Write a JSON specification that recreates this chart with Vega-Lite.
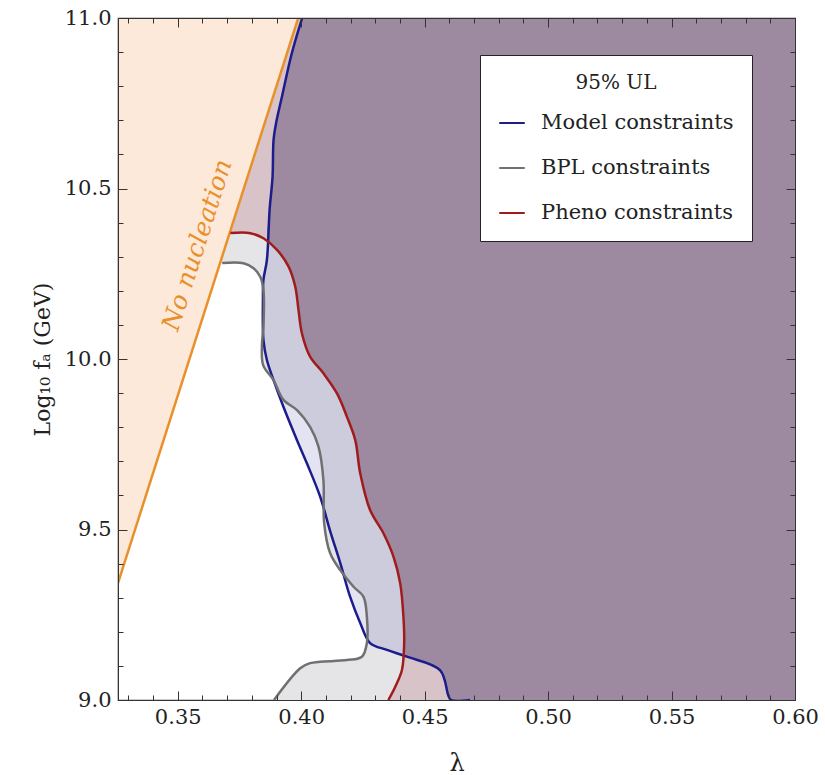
{
  "$schema": "https://vega.github.io/schema/vega-lite/v6.json",
  "width": 677,
  "height": 682,
  "autosize": {"type": "none"},
  "padding": {"left": 118, "top": 18, "right": 30, "bottom": 75},
  "background": "white",
  "config": {
    "font": "DejaVu Serif",
    "view": {"stroke": "#333333", "strokeWidth": 1.2},
    "axis": {"grid": false, "domainColor": "#333333", "tickColor": "#333333", "labelColor": "#222222", "titleColor": "#222222", "labelFont": "DejaVu Serif", "titleFont": "DejaVu Serif", "titleFontWeight": "normal", "labelFlush": false, "labelOverlap": false}
  },
  "datasets": {
    "grayEdge": [
      {"y": 9.0, "x": 0.389}, {"y": 9.093, "x": 0.3996}, {"y": 9.108, "x": 0.4036}, {"y": 9.117, "x": 0.4185},
      {"y": 9.127, "x": 0.4246}, {"y": 9.167, "x": 0.4266}, {"y": 9.244, "x": 0.4266}, {"y": 9.303, "x": 0.4252},
      {"y": 9.332, "x": 0.4212}, {"y": 9.381, "x": 0.4158}, {"y": 9.431, "x": 0.4117}, {"y": 9.519, "x": 0.4093},
      {"y": 9.645, "x": 0.409}, {"y": 9.743, "x": 0.407}, {"y": 9.801, "x": 0.4036}, {"y": 9.85, "x": 0.3983},
      {"y": 9.88, "x": 0.3928}, {"y": 9.938, "x": 0.3888}, {"y": 9.982, "x": 0.3846}, {"y": 10.041, "x": 0.3841},
      {"y": 10.095, "x": 0.3847}, {"y": 10.202, "x": 0.3847}, {"y": 10.241, "x": 0.3834}, {"y": 10.266, "x": 0.3807},
      {"y": 10.281, "x": 0.3766}, {"y": 10.2815, "x": 0.368}, {"y": 10.282, "x": 0.3258}, {"y": 11.0, "x": 0.3258}
    ],
    "blueEdge": [
      {"y": 9.0, "x": 0.4607}, {"y": 9.013, "x": 0.4596}, {"y": 9.087, "x": 0.4563}, {"y": 9.127, "x": 0.4428},
      {"y": 9.147, "x": 0.4347}, {"y": 9.167, "x": 0.4279}, {"y": 9.226, "x": 0.4239}, {"y": 9.303, "x": 0.4198},
      {"y": 9.402, "x": 0.4158}, {"y": 9.496, "x": 0.4117}, {"y": 9.596, "x": 0.4077}, {"y": 9.694, "x": 0.4023},
      {"y": 9.762, "x": 0.3983}, {"y": 9.86, "x": 0.3928}, {"y": 9.938, "x": 0.3888}, {"y": 9.997, "x": 0.3861},
      {"y": 10.056, "x": 0.3847}, {"y": 10.173, "x": 0.3845}, {"y": 10.232, "x": 0.3847}, {"y": 10.29, "x": 0.3861},
      {"y": 10.437, "x": 0.3872}, {"y": 10.535, "x": 0.3884}, {"y": 10.642, "x": 0.3888}, {"y": 10.691, "x": 0.3898},
      {"y": 10.769, "x": 0.3922}, {"y": 10.8965, "x": 0.3962}, {"y": 11.0, "x": 0.4004}
    ],
    "redEdge": [
      {"y": 9.0, "x": 0.4353}, {"y": 9.039, "x": 0.4381}, {"y": 9.088, "x": 0.4408}, {"y": 9.166, "x": 0.4417},
      {"y": 9.244, "x": 0.4414}, {"y": 9.342, "x": 0.4401}, {"y": 9.42, "x": 0.4374}, {"y": 9.489, "x": 0.4333},
      {"y": 9.557, "x": 0.4279}, {"y": 9.665, "x": 0.4239}, {"y": 9.762, "x": 0.4219}, {"y": 9.831, "x": 0.4185},
      {"y": 9.899, "x": 0.4145}, {"y": 9.958, "x": 0.409}, {"y": 10.007, "x": 0.4036}, {"y": 10.075, "x": 0.4003},
      {"y": 10.144, "x": 0.3989}, {"y": 10.212, "x": 0.3976}, {"y": 10.271, "x": 0.3949}, {"y": 10.32, "x": 0.3902},
      {"y": 10.354, "x": 0.3847}, {"y": 10.369, "x": 0.3794}, {"y": 10.3695, "x": 0.3258}, {"y": 11.0, "x": 0.3258}
    ],
    "darkEdge": [
      {"y": 9.0, "x": 0.4607}, {"y": 9.013, "x": 0.4596}, {"y": 9.087, "x": 0.4563}, {"y": 9.127, "x": 0.4428},
      {"y": 9.131, "x": 0.4415}, {"y": 9.166, "x": 0.4417}, {"y": 9.244, "x": 0.4414}, {"y": 9.342, "x": 0.4401},
      {"y": 9.42, "x": 0.4374}, {"y": 9.489, "x": 0.4333}, {"y": 9.557, "x": 0.4279}, {"y": 9.665, "x": 0.4239},
      {"y": 9.762, "x": 0.4219}, {"y": 9.831, "x": 0.4185}, {"y": 9.899, "x": 0.4145}, {"y": 9.958, "x": 0.409},
      {"y": 10.007, "x": 0.4036}, {"y": 10.075, "x": 0.4003}, {"y": 10.144, "x": 0.3989}, {"y": 10.212, "x": 0.3976},
      {"y": 10.271, "x": 0.3949}, {"y": 10.32, "x": 0.3902}, {"y": 10.343, "x": 0.3866}, {"y": 10.437, "x": 0.3872},
      {"y": 10.535, "x": 0.3884}, {"y": 10.642, "x": 0.3888}, {"y": 10.691, "x": 0.3898}, {"y": 10.769, "x": 0.3922},
      {"y": 10.8965, "x": 0.3962}, {"y": 11.0, "x": 0.4004}
    ],
    "orangeEdge": [
      {"y": 9.343, "x": 0.3258}, {"y": 11.0, "x": 0.3988}
    ],
    "curves": [
      {"series": "Model constraints", "x": 0.4684, "y": 9.0}, {"series": "Model constraints", "x": 0.4607, "y": 9.0},
      {"series": "Model constraints", "x": 0.4596, "y": 9.013}, {"series": "Model constraints", "x": 0.4563, "y": 9.087},
      {"series": "Model constraints", "x": 0.4428, "y": 9.127}, {"series": "Model constraints", "x": 0.4347, "y": 9.147},
      {"series": "Model constraints", "x": 0.4279, "y": 9.167}, {"series": "Model constraints", "x": 0.4239, "y": 9.226},
      {"series": "Model constraints", "x": 0.4198, "y": 9.303}, {"series": "Model constraints", "x": 0.4158, "y": 9.402},
      {"series": "Model constraints", "x": 0.4117, "y": 9.496}, {"series": "Model constraints", "x": 0.4077, "y": 9.596},
      {"series": "Model constraints", "x": 0.4023, "y": 9.694}, {"series": "Model constraints", "x": 0.3983, "y": 9.762},
      {"series": "Model constraints", "x": 0.3928, "y": 9.86}, {"series": "Model constraints", "x": 0.3888, "y": 9.938},
      {"series": "Model constraints", "x": 0.3861, "y": 9.997}, {"series": "Model constraints", "x": 0.3847, "y": 10.056},
      {"series": "Model constraints", "x": 0.3845, "y": 10.173}, {"series": "Model constraints", "x": 0.3847, "y": 10.232},
      {"series": "Model constraints", "x": 0.3861, "y": 10.29}, {"series": "Model constraints", "x": 0.3872, "y": 10.437},
      {"series": "Model constraints", "x": 0.3884, "y": 10.535}, {"series": "Model constraints", "x": 0.3888, "y": 10.642},
      {"series": "Model constraints", "x": 0.3898, "y": 10.691}, {"series": "Model constraints", "x": 0.3922, "y": 10.769},
      {"series": "Model constraints", "x": 0.3962, "y": 10.8965}, {"series": "Model constraints", "x": 0.4004, "y": 11.0},
      {"series": "BPL constraints", "x": 0.389, "y": 9.0}, {"series": "BPL constraints", "x": 0.3996, "y": 9.093},
      {"series": "BPL constraints", "x": 0.4036, "y": 9.108}, {"series": "BPL constraints", "x": 0.4185, "y": 9.117},
      {"series": "BPL constraints", "x": 0.4246, "y": 9.127}, {"series": "BPL constraints", "x": 0.4266, "y": 9.167},
      {"series": "BPL constraints", "x": 0.4266, "y": 9.244}, {"series": "BPL constraints", "x": 0.4252, "y": 9.303},
      {"series": "BPL constraints", "x": 0.4212, "y": 9.332}, {"series": "BPL constraints", "x": 0.4158, "y": 9.381},
      {"series": "BPL constraints", "x": 0.4117, "y": 9.431}, {"series": "BPL constraints", "x": 0.4093, "y": 9.519},
      {"series": "BPL constraints", "x": 0.409, "y": 9.645}, {"series": "BPL constraints", "x": 0.407, "y": 9.743},
      {"series": "BPL constraints", "x": 0.4036, "y": 9.801}, {"series": "BPL constraints", "x": 0.3983, "y": 9.85},
      {"series": "BPL constraints", "x": 0.3928, "y": 9.88}, {"series": "BPL constraints", "x": 0.3888, "y": 9.938},
      {"series": "BPL constraints", "x": 0.3846, "y": 9.982}, {"series": "BPL constraints", "x": 0.3841, "y": 10.041},
      {"series": "BPL constraints", "x": 0.3847, "y": 10.095}, {"series": "BPL constraints", "x": 0.3847, "y": 10.202},
      {"series": "BPL constraints", "x": 0.3834, "y": 10.241}, {"series": "BPL constraints", "x": 0.3807, "y": 10.266},
      {"series": "BPL constraints", "x": 0.3766, "y": 10.281}, {"series": "BPL constraints", "x": 0.368, "y": 10.2815},
      {"series": "Pheno constraints", "x": 0.4353, "y": 9.0}, {"series": "Pheno constraints", "x": 0.4381, "y": 9.039},
      {"series": "Pheno constraints", "x": 0.4408, "y": 9.088}, {"series": "Pheno constraints", "x": 0.4417, "y": 9.166},
      {"series": "Pheno constraints", "x": 0.4414, "y": 9.244}, {"series": "Pheno constraints", "x": 0.4401, "y": 9.342},
      {"series": "Pheno constraints", "x": 0.4374, "y": 9.42}, {"series": "Pheno constraints", "x": 0.4333, "y": 9.489},
      {"series": "Pheno constraints", "x": 0.4279, "y": 9.557}, {"series": "Pheno constraints", "x": 0.4239, "y": 9.665},
      {"series": "Pheno constraints", "x": 0.4219, "y": 9.762}, {"series": "Pheno constraints", "x": 0.4185, "y": 9.831},
      {"series": "Pheno constraints", "x": 0.4145, "y": 9.899}, {"series": "Pheno constraints", "x": 0.409, "y": 9.958},
      {"series": "Pheno constraints", "x": 0.4036, "y": 10.007}, {"series": "Pheno constraints", "x": 0.4003, "y": 10.075},
      {"series": "Pheno constraints", "x": 0.3989, "y": 10.144}, {"series": "Pheno constraints", "x": 0.3976, "y": 10.212},
      {"series": "Pheno constraints", "x": 0.3949, "y": 10.271}, {"series": "Pheno constraints", "x": 0.3902, "y": 10.32},
      {"series": "Pheno constraints", "x": 0.3847, "y": 10.354}, {"series": "Pheno constraints", "x": 0.3794, "y": 10.369},
      {"series": "Pheno constraints", "x": 0.3713, "y": 10.3692}
    ],
    "label": [
      {"x": 0.3579, "y": 10.334, "text": "No nucleation"}
    ]
  },
  "layer": [
    {
      "layer": [
        {
          "data": {"name": "grayEdge"},
          "mark": {"type": "area", "orient": "horizontal", "color": "#e5e5e7", "opacity": 1, "clip": true, "interpolate": "catmull-rom"},
          "encoding": {
            "y": {"field": "y", "type": "quantitative", "scale": {"domain": [9, 11], "nice": false, "zero": false}},
            "x": {"field": "x", "type": "quantitative", "scale": {"domain": [0.3258, 0.6], "nice": false, "zero": false}},
            "x2": {"datum": 0.6}
          }
        },
        {
          "data": {"name": "blueEdge"},
          "mark": {"type": "area", "orient": "horizontal", "color": "#2a2a9a", "opacity": 0.13, "clip": true, "interpolate": "catmull-rom"},
          "encoding": {
            "y": {"field": "y", "type": "quantitative"},
            "x": {"field": "x", "type": "quantitative"},
            "x2": {"datum": 0.6}
          }
        },
        {
          "data": {"name": "redEdge"},
          "mark": {"type": "area", "orient": "horizontal", "color": "#d8c4c8", "opacity": 1, "clip": true, "interpolate": "catmull-rom"},
          "encoding": {
            "y": {"field": "y", "type": "quantitative"},
            "x": {"field": "x", "type": "quantitative"},
            "x2": {"datum": 0.6}
          }
        },
        {
          "data": {"name": "darkEdge"},
          "mark": {"type": "area", "orient": "horizontal", "color": "#9e8aa0", "opacity": 1, "clip": true, "interpolate": "catmull-rom"},
          "encoding": {
            "y": {"field": "y", "type": "quantitative"},
            "x": {"field": "x", "type": "quantitative"},
            "x2": {"datum": 0.6}
          }
        },
        {
          "data": {"name": "orangeEdge"},
          "mark": {"type": "area", "orient": "horizontal", "color": "#fde9da", "opacity": 1, "clip": true},
          "encoding": {
            "y": {"field": "y", "type": "quantitative"},
            "x": {"field": "x", "type": "quantitative"},
            "x2": {"datum": 0.3258}
          }
        },
        {
          "data": {"name": "orangeEdge"},
          "mark": {"type": "line", "color": "#e8902a", "strokeWidth": 2.5, "clip": true},
          "encoding": {
            "y": {"field": "y", "type": "quantitative"},
            "x": {"field": "x", "type": "quantitative"},
            "order": {"value": null}
          }
        },
        {
          "data": {"name": "curves"},
          "mark": {"type": "line", "strokeWidth": 2.5, "clip": true, "interpolate": "catmull-rom"},
          "encoding": {
            "y": {"field": "y", "type": "quantitative"},
            "x": {"field": "x", "type": "quantitative"},
            "order": {"value": null},
            "color": {
              "field": "series", "type": "nominal",
              "scale": {"domain": ["Model constraints", "BPL constraints", "Pheno constraints"], "range": ["#1c1c8c", "#707070", "#a01c1c"]},
              "legend": {
                "orient": "none", "legendX": 362, "legendY": 37, "title": "95% UL",
                "titleAnchor": "middle", "titleAlign": "center", "titleFontSize": 20, "titleFontWeight": "normal", "titleFont": "DejaVu Serif", "titleColor": "#222222", "titlePadding": 16,
                "labelFontSize": 21, "labelFont": "DejaVu Serif", "labelColor": "#222222", "labelOffset": 15, "labelLimit": 400,
                "symbolType": "stroke", "symbolSize": 650, "symbolStrokeWidth": 2,
                "rowPadding": 21, "padding": 18, "fillColor": "white", "strokeColor": "#222222", "cornerRadius": 0
              }
            }
          }
        }
      ],
      "encoding": {
        "x": {
          "axis": {
            "orient": "bottom", "title": "λ", "titleFontSize": 24, "titlePadding": 20, "zindex": 2,
            "values": [0.33, 0.34, 0.35, 0.36, 0.37, 0.38, 0.39, 0.4, 0.41, 0.42, 0.43, 0.44, 0.45, 0.46, 0.47, 0.48, 0.49, 0.5, 0.51, 0.52, 0.53, 0.54, 0.55, 0.56, 0.57, 0.58, 0.59, 0.6],
            "labelExpr": "abs(datum.value*20-round(datum.value*20))<0.001 ? format(datum.value, '.2f') : ''",
            "tickSize": {"condition": {"test": "abs(datum.value*20-round(datum.value*20))<0.001", "value": -9}, "value": -5},
            "labelFontSize": 21, "labelPadding": 15
          }
        },
        "y": {
          "axis": {
            "orient": "left", "title": "Log₁₀ fₐ (GeV)", "titleFontSize": 22, "titlePadding": 10, "zindex": 2,
            "values": [9.0, 9.1, 9.2, 9.3, 9.4, 9.5, 9.6, 9.7, 9.8, 9.9, 10.0, 10.1, 10.2, 10.3, 10.4, 10.5, 10.6, 10.7, 10.8, 10.9, 11.0],
            "labelExpr": "abs(datum.value*2-round(datum.value*2))<0.001 ? format(datum.value, '.1f') : ''",
            "tickSize": {"condition": {"test": "abs(datum.value*2-round(datum.value*2))<0.001", "value": -9}, "value": -5},
            "labelFontSize": 21, "labelPadding": 16
          }
        }
      }
    },
    {
      "data": {"name": "label"},
      "mark": {"type": "text", "angle": -72.3, "fontSize": 25, "fontStyle": "italic", "font": "DejaVu Serif", "color": "#e8902a", "align": "center", "baseline": "middle"},
      "encoding": {
        "x": {"field": "x", "type": "quantitative", "axis": {"orient": "top", "title": null, "labels": false, "zindex": 2,
          "values": [0.33, 0.34, 0.35, 0.36, 0.37, 0.38, 0.39, 0.4, 0.41, 0.42, 0.43, 0.44, 0.45, 0.46, 0.47, 0.48, 0.49, 0.5, 0.51, 0.52, 0.53, 0.54, 0.55, 0.56, 0.57, 0.58, 0.59, 0.6],
          "tickSize": {"condition": {"test": "abs(datum.value*20-round(datum.value*20))<0.001", "value": -9}, "value": -5}}},
        "y": {"field": "y", "type": "quantitative", "axis": {"orient": "right", "title": null, "labels": false, "zindex": 2,
          "values": [9.0, 9.1, 9.2, 9.3, 9.4, 9.5, 9.6, 9.7, 9.8, 9.9, 10.0, 10.1, 10.2, 10.3, 10.4, 10.5, 10.6, 10.7, 10.8, 10.9, 11.0],
          "tickSize": {"condition": {"test": "abs(datum.value*2-round(datum.value*2))<0.001", "value": -9}, "value": -5}}},
        "text": {"field": "text"}
      }
    }
  ],
  "resolve": {"axis": {"x": "independent", "y": "independent"}}
}
